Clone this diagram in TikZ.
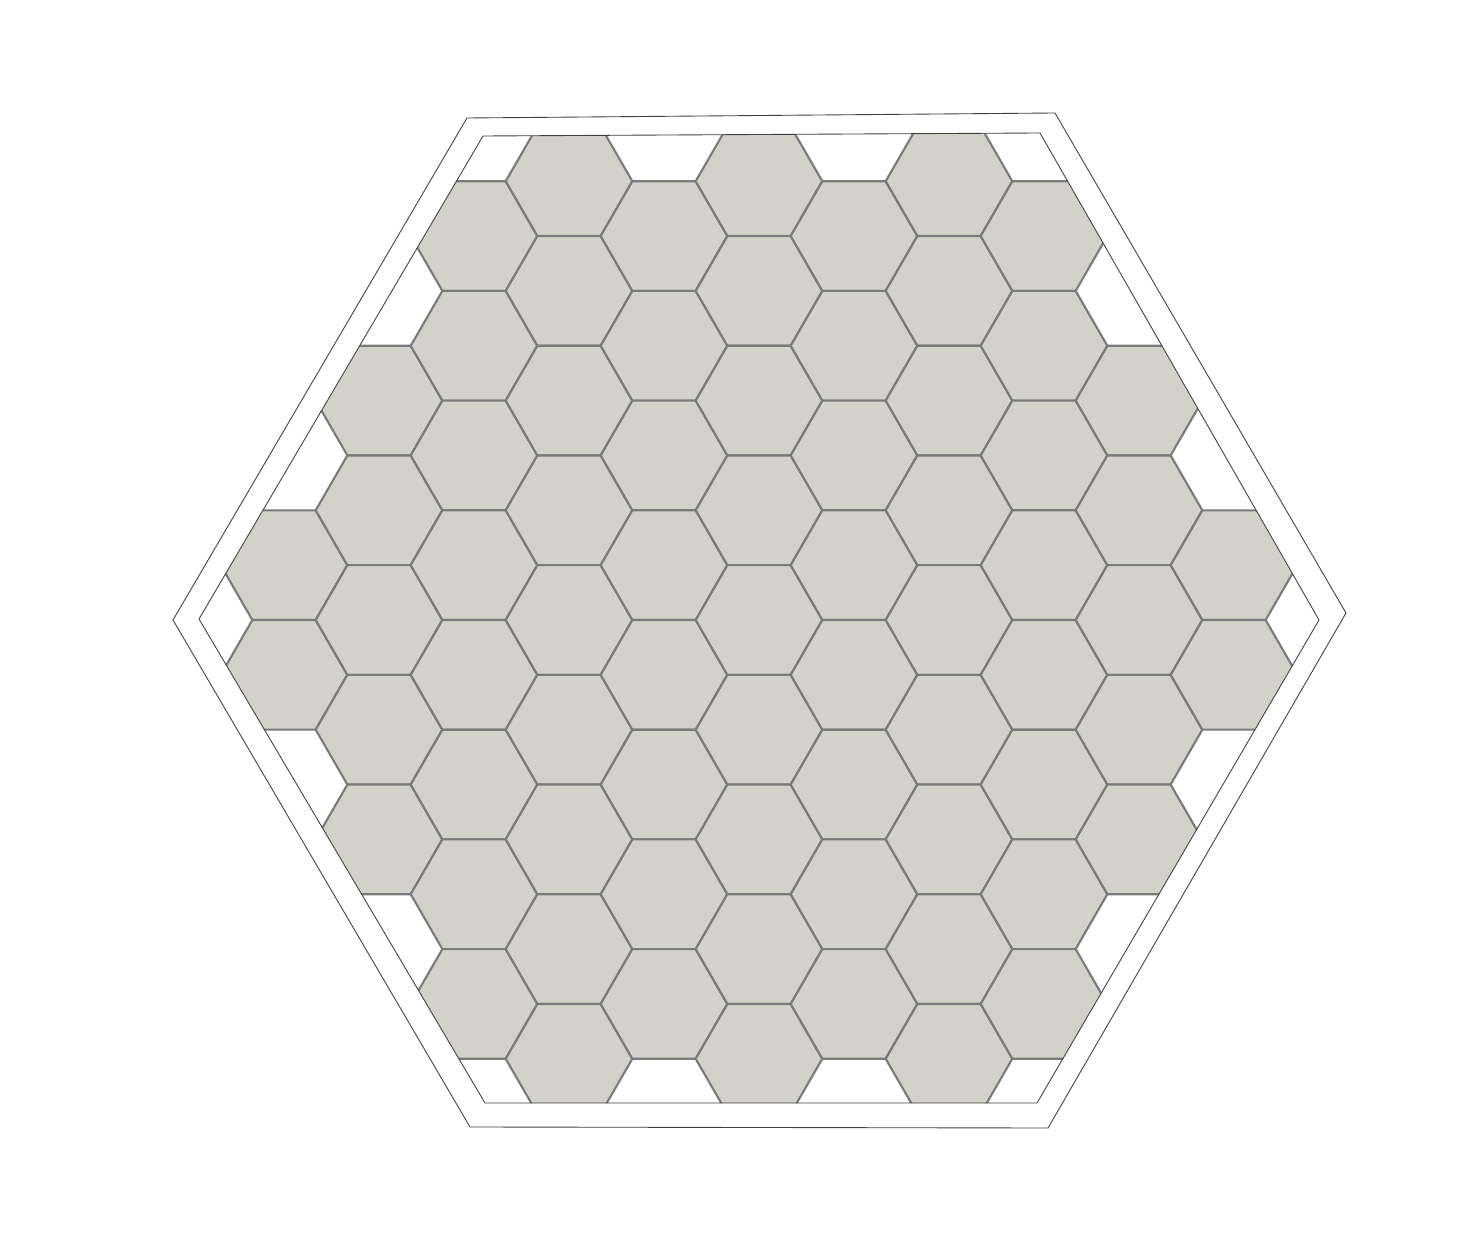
\documentclass[tikz,border=0pt]{standalone}
\usepackage{xcolor}
\usepackage{tikz}
\usetikzlibrary{calc}

\definecolor{cellgray}{HTML}{D3D2CA}
\definecolor{edgegray}{HTML}{7A7A7A}

\begin{document}
\begin{tikzpicture}[
    x=0.02cm, y=-0.02cm,
    cell/.style={
      fill=cellgray, draw=edgegray,
      line width=1.2pt, line join=round
    },
    rim/.style={draw=black!75, line width=0.5pt, line join=round},
  ]

  \useasboundingbox (0,0) rectangle (1458,1246);

  % inner and outer rims of the board
  \coordinate (i1) at (483,136);
  \coordinate (i2) at (1040,133);
  \coordinate (i3) at (1319,620);
  \coordinate (i4) at (1037,1103);
  \coordinate (i5) at (485,1103);
  \coordinate (i6) at (199,619);

  \coordinate (o1) at (467,118);
  \coordinate (o2) at (1055,113);
  \coordinate (o3) at (1346,613);
  \coordinate (o4) at (1048,1128);
  \coordinate (o5) at (470,1127);
  \coordinate (o6) at (173,620);

  % hex cells, clipped to the inner rim
  \begin{scope}
    \clip (i1) -- (i2) -- (i3) -- (i4) -- (i5) -- (i6) -- cycle;
    \foreach \i/\jmin/\jmax in {-5/-1/0, -4/-2/2, -3/-4/3, -2/-4/4, -1/-4/3,
                                0/-4/4, 1/-4/3, 2/-4/4, 3/-4/3, 4/-2/2, 5/-1/0}
      \foreach \j in {\jmin,...,\jmax}
        \path[cell] ({759+95*\i},{620+109.7*\j+54.85*abs(mod(\i,2))})
          ++(0:63.3) -- ++(120:63.3) -- ++(180:63.3) -- ++(240:63.3)
          -- ++(300:63.3) -- ++(0:63.3) -- cycle;
  \end{scope}

  \draw[rim] (i1) -- (i2) -- (i3) -- (i4) -- (i5) -- (i6) -- cycle;
  \draw[rim] (o1) -- (o2) -- (o3) -- (o4) -- (o5) -- (o6) -- cycle;
\end{tikzpicture}
\end{document}
